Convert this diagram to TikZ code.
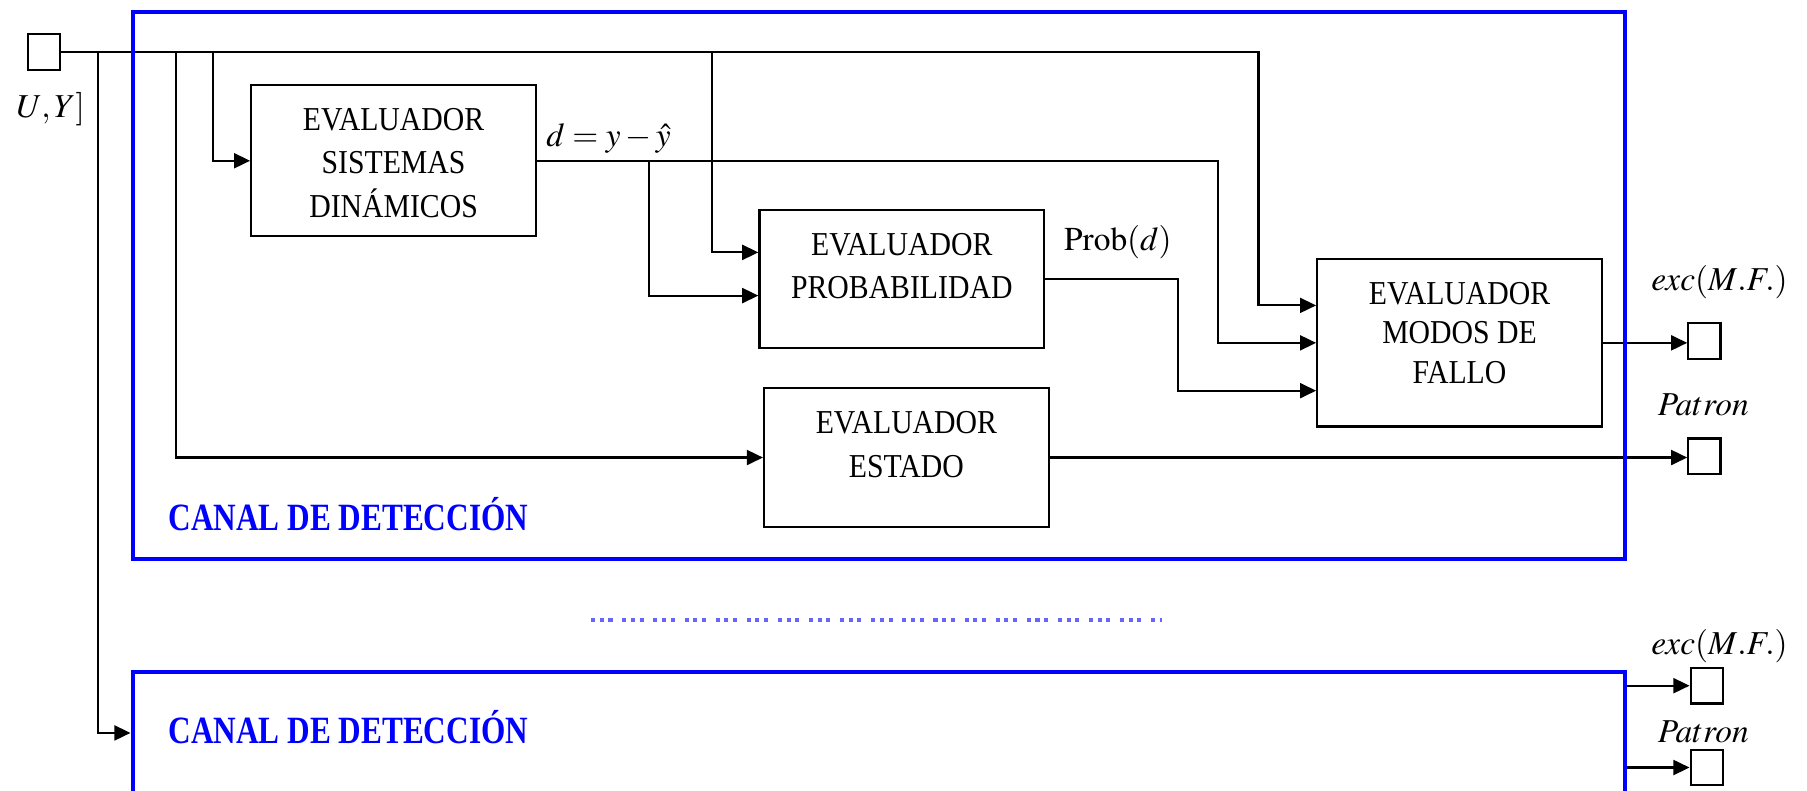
\documentclass[tikz,border=0pt]{standalone}
\usepackage{mathptmx}
\usepackage{fontspec}
\setmainfont[FakeStretch=0.89]{Liberation Serif}
\newfontfamily\canalfont[FakeStretch=0.81]{Liberation Serif}
\usetikzlibrary{arrows.meta}
\usetikzlibrary{positioning}

\tikzset{
  bloque/.style={draw, line width=1.9pt, minimum width=247pt, inner sep=0pt},
  texto/.style={align=center, inner sep=0pt, font=\fontsize{29}{37.5}\selectfont},
  puerto/.style={draw, line width=1.9pt, minimum width=28pt, minimum height=31pt, inner sep=0pt},
  canal/.style={draw=blue, line width=3.5pt, minimum width=1295pt, inner sep=0pt},
  titulo/.style={text=blue, inner sep=0pt, anchor=base west,
    font=\canalfont\bfseries\fontsize{33.5}{36}\selectfont},
  rotulo/.style={inner sep=0pt, font=\fontsize{29}{35}\selectfont},
  flecha/.style={-{Triangle[length=14pt,width=13pt]}, line width=1.9pt},
}

\begin{document}
\begin{tikzpicture}[x=1pt, y=-1pt]
\useasboundingbox (0,0) rectangle (1568,686);

% evaluadores
\node[bloque, minimum height=131pt] (sis) at (341.5,139.5) {};
\node[texto, below=21pt of sis.north] (sis-t) {EVALUADOR\\SISTEMAS\\DINÁMICOS};
\node[bloque, minimum height=120pt] (pro) at (782.5,242) {};
\node[texto, below=21pt of pro.north] (pro-t) {EVALUADOR\\PROBABILIDAD};
\node[bloque, minimum height=145pt] (mod) at (1266.5,297.5) {};
\node[texto, below=21pt of mod.north, font=\fontsize{29}{34}\selectfont] (mod-t) {EVALUADOR\\MODOS DE\\FALLO};
\node[bloque, minimum height=120pt] (est) at (786.5,397) {};
\node[texto, below=21pt of est.north] (est-t) {EVALUADOR\\ESTADO};

% entrada y salidas
\node[puerto] (ent) at (38,45) {};
\node[puerto] (s1) at (1479,296) {};
\node[puerto] (s2) at (1479,396) {};
\node[puerto] (s3) at (1481,595) {};
\node[puerto] (s4) at (1481,666) {};

\node[rotulo] (uy) at (44,95) {$U,Y]$};
\node[rotulo, anchor=base west] (dif) at (474,127.5) {$d=y-\hat{y}$};
\node[rotulo] (prob) at (970,210) {$\mathrm{Prob}(d)$};
\node[rotulo] (exc1) at (1492,245) {$exc(M.F.)$};
\node[rotulo] (pat1) at (1478,351) {$Patron$};
\node[rotulo] (exc2) at (1492,561) {$exc(M.F.)$};
\node[rotulo] (pat2) at (1478,635) {$Patron$};

% segundo canal
\node[canal, minimum height=106pt] (c2) at (762.5,636) {};
\node[titulo] (t2) at (146,645) {CANAL DE DETECCIÓN};

% derivaciones del bus de entrada
\coordinate (j0) at (85,45);
\coordinate (j1) at (153,45);
\coordinate (j2) at (185,45);
\coordinate (j3) at (618,45);
\coordinate (j4) at (563,139.5);

\draw[flecha] (ent.east) -| ([xshift=-50pt,yshift=32.5pt]mod.west) -- ([yshift=32.5pt]mod.west);
\draw[flecha] (j0) |- (c2.west);
\draw[flecha] (j1) |- (est.west);
\draw[flecha] (j2) |- (sis.west);
\draw[flecha] (j3) |- ([yshift=23pt]pro.west);
\draw[flecha] (j4) |- ([yshift=-14.5pt]pro.west);
\draw[flecha] (sis.east) -| ([xshift=-85pt]mod.west) -- (mod.west);
\draw[flecha] (pro.east) -| ([xshift=-120pt,yshift=-41.5pt]mod.west) -- ([yshift=-41.5pt]mod.west);
\draw[flecha] (mod.east) -- (mod.east -| s1.west);
\draw[flecha] (est.east) -- (est.east -| s2.west);
\draw[flecha] (s3.west -| c2.east) -- (s3.west);
\draw[flecha] (s4.west -| c2.east) -- (s4.west);

% puntos suspensivos entre canales
\coordinate (p0) at (513,538);
\coordinate (p1) at (1008,538);
\draw[blue!60, line width=3.5pt, dash pattern=on 3.5pt off 4pt on 3.5pt off 4pt on 3.5pt off 8.5pt] (p0) -- (p1);

% primer canal (encima de las lineas)
\node[canal, minimum height=475pt] (c1) at (762.5,247.5) {};
\node[titulo] (t1) at (146,460) {CANAL DE DETECCIÓN};
\end{tikzpicture}
\end{document}
